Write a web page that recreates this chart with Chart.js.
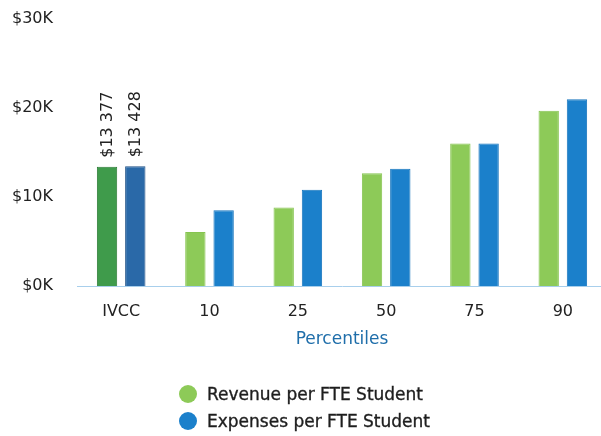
<!DOCTYPE html>
<html>
<head>
<meta charset="utf-8">
<script src="https://cdn.jsdelivr.net/npm/chart.js@4"></script>
<style>
  html, body { margin: 0; padding: 0; background: #fff; }
  #wrap { position: relative; width: 601px; height: 436px; overflow: hidden; }
  #chart { position: absolute; left: 0; top: -15px; }
  #legend { position: absolute; left: 179px; top: 381px; font-family: "DejaVu Sans", sans-serif; font-size: 17px; color: #1e1e1e; -webkit-text-stroke: 0.35px #1e1e1e; }
  #legend div { height: 27px; line-height: 27px; white-space: nowrap; }
  #legend span { display: inline-block; width: 18px; height: 18px; border-radius: 50%; vertical-align: -3px; margin-right: 10px; -webkit-text-stroke: 0; }
</style>
</head>
<body>
<div id="wrap">
  <canvas id="chart" width="607" height="451"></canvas>
  <div id="legend"></div>
</div>
<script>
const categories = ["IVCC", "10", "25", "50", "75", "90"];
const revenue = [13377, 6050, 8800, 12650, 16000, 19650];
const expenses = [13428, 8500, 10800, 13150, 16000, 20950];
const seriesNames = ["Revenue per FTE Student", "Expenses per FTE Student"];
const yMax = 30000;
const yStep = 10000;

const greens = ["#3f9b4b", "#8dca58", "#8dca58", "#8dca58", "#8dca58", "#8dca58"];
const blues = ["#2a69a8", "#1b80cb", "#1b80cb", "#1b80cb", "#1b80cb", "#1b80cb"];
const greenBorders = ["#2b7a34", "#86c450", "#86c450", "#86c450", "#86c450", "#86c450"];
const blueBorders = ["#1d4f86", "#1775bd", "#1775bd", "#1775bd", "#1775bd", "#1775bd"];

const font = "'DejaVu Sans', sans-serif";

function money(v) {
  return "$" + String(v).replace(/\B(?=(\d{3})+(?!\d))/g, " ");
}

// vertical value labels over the IVCC bars only
const ivccLabels = {
  id: "ivccLabels",
  afterDatasetsDraw(chart) {
    const ctx = chart.ctx;
    chart.data.datasets.forEach((ds, i) => {
      const bar = chart.getDatasetMeta(i).data[0];
      ctx.save();
      ctx.translate(bar.x, bar.y - 9);
      ctx.rotate(-Math.PI / 2);
      ctx.font = "16px " + font;
      ctx.fillStyle = "#222";
      ctx.textAlign = "left";
      ctx.textBaseline = "middle";
      ctx.fillText(money(ds.data[0]), 0, 1);
      ctx.restore();
    });
  }
};

new Chart(document.getElementById("chart"), {
  type: "bar",
  data: {
    labels: categories,
    datasets: [
      { label: seriesNames[0], data: revenue, backgroundColor: greens, borderColor: greenBorders, borderWidth: 1 },
      { label: seriesNames[1], data: expenses, backgroundColor: blues, borderColor: blueBorders, borderWidth: 1 }
    ]
  },
  options: {
    responsive: false,
    animation: false,
    layout: { padding: { left: 0, top: 8, right: 0, bottom: 86 } },
    datasets: { bar: { categoryPercentage: 0.64, barPercentage: 0.72 } },
    plugins: {
      legend: { display: false },
      tooltip: { enabled: false }
    },
    scales: {
      x: {
        afterFit(scale) { scale.height = 64; },
        grid: { display: false, drawTicks: false },
        border: { display: true, color: "#a8cfec", width: 1 },
        ticks: { color: "#222", font: { family: font, size: 16 }, padding: 16 },
        title: { display: true, text: "Percentiles", color: "#1f6eaa", font: { family: font, size: 17 }, padding: 0 }
      },
      y: {
        min: 0,
        max: yMax,
        afterFit(scale) { scale.width = 77; },
        grid: { display: false, drawTicks: false },
        border: { display: false },
        ticks: {
          stepSize: yStep,
          color: "#222",
          font: { family: font, size: 16 },
          padding: 24,
          callback: v => "$" + v / 1000 + "K"
        }
      }
    }
  },
  plugins: [ivccLabels]
});

const legend = document.getElementById("legend");
[[seriesNames[0], "#8dca58"], [seriesNames[1], "#1b80cb"]].forEach(([name, color]) => {
  const row = document.createElement("div");
  row.innerHTML = '<span style="background:' + color + '"></span>' + name;
  legend.appendChild(row);
});
</script>
</body>
</html>
